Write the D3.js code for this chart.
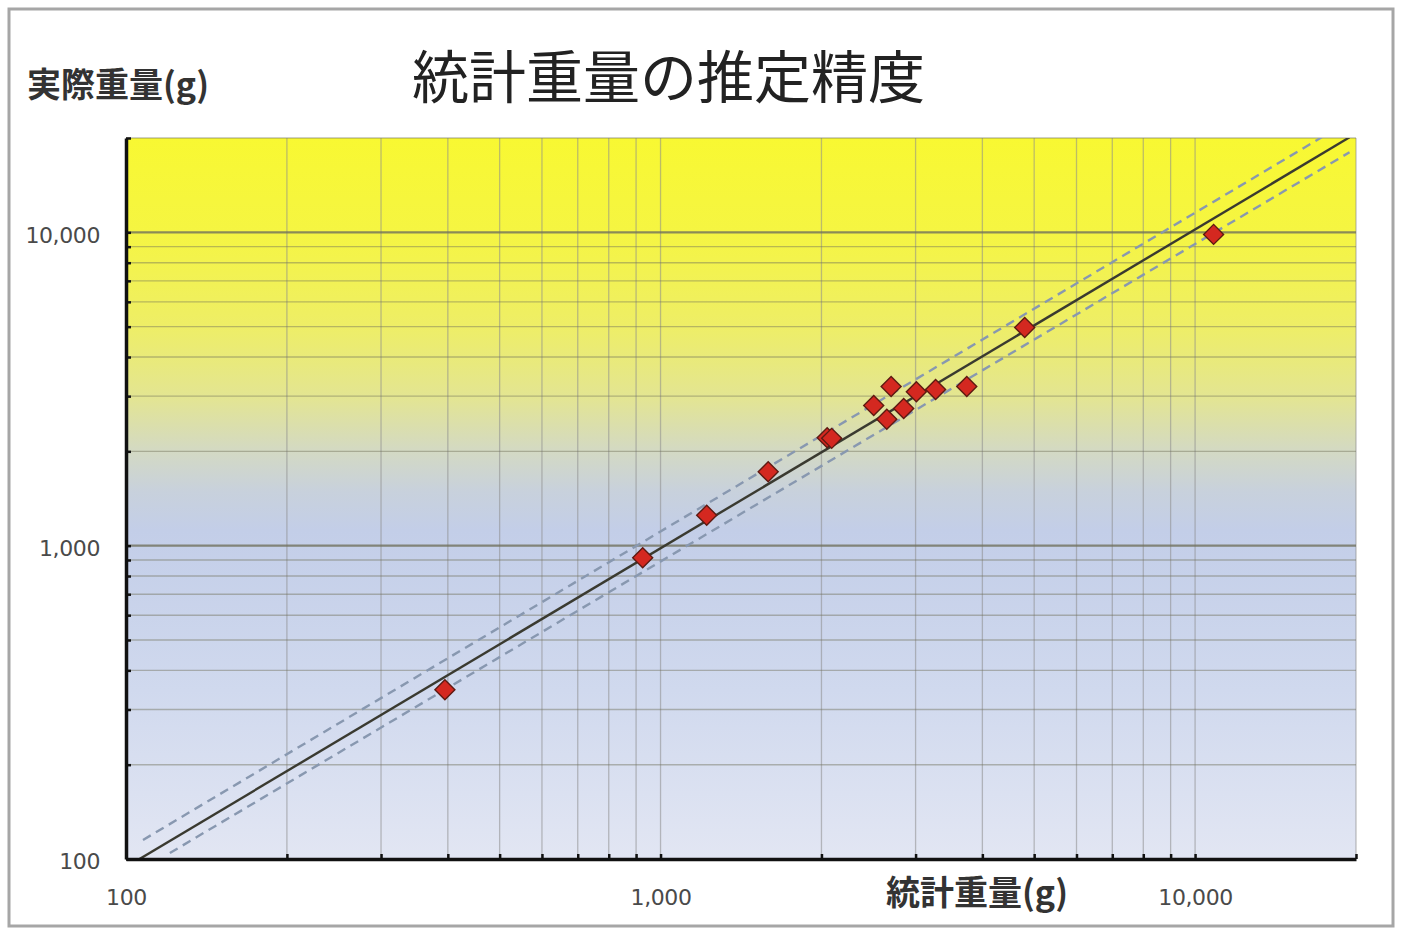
<!DOCTYPE html>
<html>
<head>
<meta charset="utf-8">
<script src="https://cdn.jsdelivr.net/npm/d3@7"></script>
<style>
  html, body { margin: 0; padding: 0; background: #fff; }
  svg { display: block; }
</style>
</head>
<body>
<svg id="chart" width="1401" height="930"></svg>
<script>
// ---- data ----
const titleText = "統計重量の推定精度";
const xAxisTitle = "統計重量(g)";
const yAxisTitle = "実際重量(g)";

// statistical weight (x) vs actual weight (y), grams
const statWeight   = [395, 926, 1220, 1590, 2050, 2090, 2505, 2700, 2650, 2850, 3010, 3270, 3740, 4800, 10830];
const actualWeight = [347, 915, 1250, 1720, 2210, 2200, 2800, 3220, 2530, 2740, 3100, 3150, 3220, 4970, 9850];

// fit line and ±10% band (end points in data units)
const fitLineX   = [106, 19450];
const fitLineY   = [100, 20100];
const upperLineX = [107.6, 17250];
const upperLineY = [115, 20100];
const lowerLineX = [120.8, 19450];
const lowerLineY = [104.5, 18010];

const axisDomain = [100, 20000];
const labelTicks = [100, 1000, 10000];

// ---- layout ----
const svg = d3.select("#chart");
const pL = 126, pR = 1356, pT = 138, pB = 859;

const x = d3.scaleLog().domain(axisDomain).range([pL, pR]);
const y = d3.scaleLog().domain(axisDomain).range([pB, pT]);
const fmt = d3.format(",");

// outer frame
svg.append("rect")
  .attr("x", 9).attr("y", 9).attr("width", 1384).attr("height", 917)
  .attr("fill", "#fff").attr("stroke", "#a6a6a6").attr("stroke-width", 3);

// background gradient
const defs = svg.append("defs");
const grad = defs.append("linearGradient").attr("id", "bg")
  .attr("x1", 0).attr("y1", 0).attr("x2", 0).attr("y2", 1);
[
  [0.00, "#f8f832"],
  [0.13, "#f5f542"],
  [0.26, "#eeee66"],
  [0.36, "#e3e592"],
  [0.435, "#d3d9c4"],
  [0.49, "#c8d1dc"],
  [0.545, "#c3cee8"],
  [0.765, "#d0d9ee"],
  [1.00, "#e2e6f3"]
].forEach(([o, c]) => grad.append("stop").attr("offset", o).attr("stop-color", c));

svg.append("rect")
  .attr("x", pL).attr("y", pT).attr("width", pR - pL).attr("height", pB - pT)
  .attr("fill", "url(#bg)");

const gridVals = x.ticks();

// vertical grid
svg.append("g").selectAll("line")
  .data(gridVals.filter(v => v > axisDomain[0]))
  .join("line")
  .attr("x1", d => x(d)).attr("x2", d => x(d))
  .attr("y1", pT).attr("y2", pB)
  .attr("stroke", "#8c8c8c").attr("stroke-opacity", 0.55).attr("stroke-width", 1.3);

// horizontal grid
svg.append("g").selectAll("line")
  .data(y.ticks().filter(v => v > axisDomain[0]))
  .join("line")
  .attr("x1", pL).attr("x2", pR)
  .attr("y1", d => y(d)).attr("y2", d => y(d))
  .attr("stroke", "#70705c")
  .attr("stroke-opacity", d => labelTicks.includes(d) ? 0.8 : 0.45)
  .attr("stroke-width", d => labelTicks.includes(d) ? 2.2 : 1.4);

// clip for lines
defs.append("clipPath").attr("id", "plotClip")
  .append("rect").attr("x", pL).attr("y", pT).attr("width", pR - pL).attr("height", pB - pT);

const line = d3.line().x(d => x(d[0])).y(d => y(d[1]));
const plotG = svg.append("g").attr("clip-path", "url(#plotClip)");

plotG.append("path")
  .datum(d3.zip(upperLineX, upperLineY))
  .attr("d", line).attr("fill", "none")
  .attr("stroke", "#8898b0").attr("stroke-width", 2.4).attr("stroke-dasharray", "9,6");
plotG.append("path")
  .datum(d3.zip(lowerLineX, lowerLineY))
  .attr("d", line).attr("fill", "none")
  .attr("stroke", "#8898b0").attr("stroke-width", 2.4).attr("stroke-dasharray", "9,6");
plotG.append("path")
  .datum(d3.zip(fitLineX, fitLineY))
  .attr("d", line).attr("fill", "none")
  .attr("stroke", "#3a3a30").attr("stroke-width", 2.4);

// markers
const diamond = d3.symbol().type(d3.symbolSquare).size(200);
svg.append("g").selectAll("path")
  .data(d3.zip(statWeight, actualWeight))
  .join("path")
  .attr("d", diamond)
  .attr("transform", d => `translate(${x(d[0])},${y(d[1])}) rotate(45)`)
  .attr("fill", "#d42820")
  .attr("stroke", "#5e1a12").attr("stroke-width", 1.4);

// axes
const xAxis = d3.axisBottom(x)
  .tickValues(gridVals)
  .tickSizeInner(-5).tickSizeOuter(0).tickPadding(30)
  .tickFormat(d => labelTicks.includes(d) ? fmt(d) : "");
const gx = svg.append("g").attr("transform", `translate(0,${pB})`).call(xAxis);
gx.select(".domain").attr("stroke", "#111").attr("stroke-width", 3.5);
gx.selectAll(".tick line").attr("stroke", "#111").attr("stroke-width", 2.5);
gx.selectAll("text")
  .attr("font-family", "'DejaVu Sans', sans-serif")
  .attr("font-size", 22).attr("fill", "#4a4a4a").attr("letter-spacing", -0.4);

const yAxis = d3.axisLeft(y)
  .tickValues(y.ticks())
  .tickSizeInner(-5).tickSizeOuter(0).tickPadding(26)
  .tickFormat(d => labelTicks.includes(d) ? fmt(d) : "");
const gy = svg.append("g").attr("transform", `translate(${pL},0)`).call(yAxis);
gy.select(".domain").attr("stroke", "#111").attr("stroke-width", 3.5);
gy.selectAll(".tick line").attr("stroke", "#111").attr("stroke-width", 2.5);
gy.selectAll("text")
  .attr("dy", "0.45em")
  .attr("font-family", "'DejaVu Sans', sans-serif")
  .attr("font-size", 22).attr("fill", "#4a4a4a").attr("letter-spacing", -0.4);

// titles
svg.append("text")
  .attr("x", 412).attr("y", 98)
  .attr("font-family", "'Noto Sans CJK JP', sans-serif")
  .attr("font-size", 57).attr("font-weight", 400).attr("fill", "#222")
  .text(titleText);

svg.append("text")
  .attr("x", 27).attr("y", 97)
  .attr("font-family", "'Noto Sans CJK JP', sans-serif")
  .attr("font-size", 34).attr("font-weight", 700).attr("fill", "#333")
  .text(yAxisTitle);

svg.append("text")
  .attr("x", 886).attr("y", 905)
  .attr("font-family", "'Noto Sans CJK JP', sans-serif")
  .attr("font-size", 34).attr("font-weight", 700).attr("fill", "#333")
  .text(xAxisTitle);
</script>
</body>
</html>
